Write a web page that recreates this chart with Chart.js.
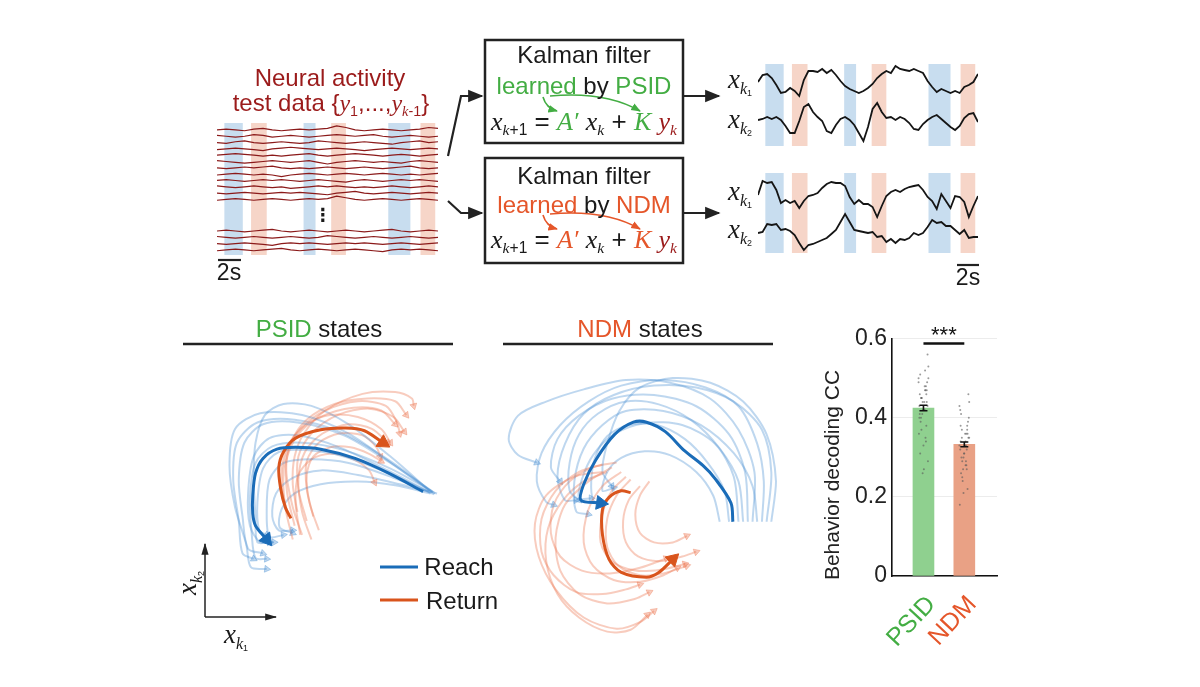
<!DOCTYPE html>
<html>
<head>
<meta charset="utf-8">
<script src="https://cdn.jsdelivr.net/npm/chart.js@4.4.1/dist/chart.umd.min.js"></script>
<style>
  body { margin:0; background:#fff; width:1200px; height:687px; position:relative; overflow:hidden;
         font-family:"Liberation Sans", Arial, sans-serif; color:#1a1a1a; }
  .box { position:absolute; }
  .t { position:absolute; white-space:nowrap; font-size:24px; line-height:1; transform:translate(-50%,-50%); }
  .m { font-family:"Liberation Serif", "DejaVu Serif", serif; font-style:italic; }
  .sb { font-size:0.6em; position:relative; top:0.35em; }
  .sb2 { font-size:0.55em; position:relative; top:0.3em; font-style:normal; font-family:"Liberation Sans", Arial, sans-serif; }
  .g { color:#43ad43; }
  .o { color:#e5562a; }
  .r { color:#9b1b1b; }
</style>
</head>
<body>

<!-- chart canvases -->
<div class="box" style="left:217px;top:123px;width:221px;height:132px"><canvas id="neural" width="221" height="132"></canvas></div>
<div class="box" style="left:758px;top:64px;width:220px;height:82px"><canvas id="psidTrace" width="220" height="82"></canvas></div>
<div class="box" style="left:758px;top:173px;width:220px;height:80px"><canvas id="ndmTrace" width="220" height="80"></canvas></div>
<div class="box" style="left:200px;top:360px;width:260px;height:230px"><canvas id="psidState" width="260" height="230"></canvas></div>
<div class="box" style="left:495px;top:355px;width:290px;height:295px"><canvas id="ndmState" width="290" height="295"></canvas></div>
<div class="box" style="left:818px;top:320px;width:185px;height:345px"><canvas id="decode" width="185" height="345"></canvas></div>

<!-- lines, boxes and arrows -->
<svg class="box" style="left:0;top:0" width="1200" height="687">
  <defs>
    <marker id="ah" viewBox="0 0 10 10" refX="9" refY="5" markerWidth="7" markerHeight="7" orient="auto">
      <path d="M0,1 L10,5 L0,9 z" fill="#222"/>
    </marker>
    <marker id="ahs" viewBox="0 0 10 10" refX="9" refY="5" markerWidth="8" markerHeight="8" orient="auto">
      <path d="M0,2 L10,5 L0,8 z" fill="#222"/>
    </marker>
    <marker id="ahg" viewBox="0 0 10 10" refX="9" refY="5" markerWidth="6" markerHeight="6" orient="auto">
      <path d="M0,1 L10,5 L0,9 z" fill="#43ad43"/>
    </marker>
    <marker id="aho" viewBox="0 0 10 10" refX="9" refY="5" markerWidth="6" markerHeight="6" orient="auto">
      <path d="M0,1 L10,5 L0,9 z" fill="#e5562a"/>
    </marker>
  </defs>
  <rect x="485" y="40" width="198" height="103" fill="none" stroke="#222" stroke-width="2.5"/>
  <rect x="485" y="158" width="198" height="105" fill="none" stroke="#222" stroke-width="2.5"/>
  <polyline points="448,156 461,96 482,96" fill="none" stroke="#222" stroke-width="2.2" marker-end="url(#ah)"/>
  <polyline points="448,201 461,213 482,213" fill="none" stroke="#222" stroke-width="2.2" marker-end="url(#ah)"/>
  <line x1="683" y1="96" x2="719" y2="96" stroke="#222" stroke-width="2.2" marker-end="url(#ah)"/>
  <line x1="683" y1="213" x2="719" y2="213" stroke="#222" stroke-width="2.2" marker-end="url(#ah)"/>
  <path d="M543,97 Q546,108 557,111" fill="none" stroke="#43ad43" stroke-width="1.6" marker-end="url(#ahg)"/>
  <path d="M550,96 Q605,91 640,111" fill="none" stroke="#43ad43" stroke-width="1.6" marker-end="url(#ahg)"/>
  <path d="M543,215 Q546,226 557,229" fill="none" stroke="#e5562a" stroke-width="1.6" marker-end="url(#aho)"/>
  <path d="M550,214 Q605,209 640,229" fill="none" stroke="#e5562a" stroke-width="1.6" marker-end="url(#aho)"/>
  <line x1="218" y1="260" x2="241" y2="260" stroke="#222" stroke-width="2.2"/>
  <line x1="957" y1="265" x2="979" y2="265" stroke="#222" stroke-width="2.2"/>
  <line x1="183" y1="344" x2="453" y2="344" stroke="#222" stroke-width="2.6"/>
  <line x1="503" y1="344" x2="773" y2="344" stroke="#222" stroke-width="2.6"/>
  <line x1="205" y1="617" x2="205" y2="544" stroke="#222" stroke-width="1.5" marker-end="url(#ahs)"/>
  <line x1="205" y1="617" x2="276" y2="617" stroke="#222" stroke-width="1.5" marker-end="url(#ahs)"/>
  <line x1="380" y1="567" x2="418" y2="567" stroke="#1a6cb8" stroke-width="3"/>
  <line x1="380" y1="600" x2="418" y2="600" stroke="#d9541c" stroke-width="3"/>
</svg>

<!-- text -->
<div class="t r" style="left:330px;top:78px">Neural activity</div>
<div class="t r" style="left:331px;top:103px">test data {<span class="m">y</span><span class="sb">1</span>,...,<span class="m">y</span><span class="sb"><span class="m">k</span>-1</span>}</div>
<div class="t" style="left:323px;top:215px;font-family:'DejaVu Sans';font-size:18px;font-weight:bold">⋮</div>
<div class="t" style="left:229px;top:272px;font-size:23px">2s</div>
<div class="t" style="left:968px;top:277px;font-size:23px">2s</div>

<div class="t" style="left:584px;top:55px">Kalman filter</div>
<div class="t" style="left:584px;top:86px"><span class="g">learned</span> by <span class="g">PSID</span></div>
<div class="t" style="left:584px;top:121px;font-size:26px"><span class="m">x</span><span class="sb"><span class="m">k</span>+1</span> = <span class="m g">A′</span> <span class="m">x</span><span class="sb m">k</span> + <span class="m g">K</span> <span class="m r">y</span><span class="sb m r">k</span></div>
<div class="t" style="left:584px;top:176px">Kalman filter</div>
<div class="t" style="left:584px;top:205px"><span class="o">learned</span> by <span class="o">NDM</span></div>
<div class="t" style="left:584px;top:239px;font-size:26px"><span class="m">x</span><span class="sb"><span class="m">k</span>+1</span> = <span class="m o">A′</span> <span class="m">x</span><span class="sb m">k</span> + <span class="m o">K</span> <span class="m r">y</span><span class="sb m r">k</span></div>

<div class="t m" style="left:740px;top:79px;font-size:27px">x<span class="sb">k<span class="sb2">1</span></span></div>
<div class="t m" style="left:740px;top:119px;font-size:27px">x<span class="sb">k<span class="sb2">2</span></span></div>
<div class="t m" style="left:740px;top:191px;font-size:27px">x<span class="sb">k<span class="sb2">1</span></span></div>
<div class="t m" style="left:740px;top:229px;font-size:27px">x<span class="sb">k<span class="sb2">2</span></span></div>

<div class="t" style="left:319px;top:329px"><span class="g">PSID</span> states</div>
<div class="t" style="left:640px;top:329px"><span class="o">NDM</span> states</div>
<div class="t" style="left:459px;top:567px;font-size:24px">Reach</div>
<div class="t" style="left:462px;top:601px;font-size:24px">Return</div>
<div class="t m" style="left:187px;top:583px;font-size:27px;transform:translate(-50%,-50%) rotate(-90deg)">x<span class="sb">k<span class="sb2">2</span></span></div>
<div class="t m" style="left:236px;top:634px;font-size:27px">x<span class="sb">k<span class="sb2">1</span></span></div>
<div class="t" style="left:831px;top:475px;font-size:21px;color:#222;transform:translate(-50%,-50%) rotate(-90deg)">Behavior decoding CC</div>

<script>
// ---- data ----
// behaviour epochs (time in s on the trace axis)
const epochReach  = [[0.8, 2.8], [9.4, 10.7], [18.6, 21.0]];
const epochReturn = [[3.7, 5.4], [12.4, 14.0], [22.1, 23.7]];
const traceSpan = 24;

// neural activity, upper group of channels (z-scored, x10)
const neuralTop = [
  [0,1,0,-1,1,2,0,-1,0,1,0,1,2,5,3,0,-1,0,1,0,-1,0,1,3,2],
  [1,0,-1,0,2,1,-1,0,1,0,-1,0,1,2,1,0,1,2,0,-1,0,1,0,-1,0],
  [0,-1,1,2,0,-1,0,1,0,-1,0,2,1,0,-1,0,1,0,-1,-2,0,1,2,0,1],
  [-1,0,1,0,-1,-2,0,1,2,1,0,-1,0,1,0,-1,-2,-1,0,1,0,-1,0,1,0],
  [0,1,2,1,0,-1,0,-1,0,1,2,0,-1,0,1,2,1,0,-1,0,1,0,-1,0,1],
  [1,0,-1,-2,-1,0,1,0,-1,0,1,-1,-3,-1,0,1,0,-1,0,-1,-2,0,1,0,-1],
  [0,-1,0,1,0,1,2,0,-1,0,-1,0,1,0,-1,0,1,0,-1,0,1,2,0,-1,0],
  [-1,0,1,0,-1,0,-1,-3,-1,0,1,0,-1,0,1,0,-1,0,1,0,-1,0,-1,0,1],
  [0,1,0,-1,0,1,0,1,0,-1,0,1,0,-1,-2,0,1,0,-1,0,1,0,1,0,-1],
  [1,0,-1,0,1,0,-1,0,-2,-1,0,1,0,1,0,-1,0,-1,0,1,0,-1,0,1,0],
  [0,-1,0,1,0,-1,0,1,0,1,0,-1,-2,0,1,2,0,-1,0,1,0,-1,0,1,0],
  [-1,0,1,0,-1,0,1,0,-1,0,1,0,1,4,2,0,-1,0,1,0,-1,0,1,0,-1]
];
// neural activity, lower group of channels
const neuralBottom = [
  [0,1,0,-1,0,1,2,0,-1,0,1,0,-1,0,1,0,-1,0,1,2,0,-1,0,1,0],
  [1,0,-1,0,1,0,-1,0,1,0,-1,0,2,1,0,-1,0,1,0,-1,0,1,0,-1,0],
  [0,-1,0,1,0,-1,-2,0,1,0,1,0,-1,0,1,0,1,0,-1,0,1,0,-1,0,1],
  [-1,0,1,0,-1,0,1,2,0,-1,0,1,0,-1,0,1,0,-1,-2,0,1,0,1,0,-1]
];

// decoded latent states over time (a.u.)
const psidK1 = [2,9,10,6,-1,-9,-8,-4,-7,-12,4,13,13,12,15,11,14,9,3,-2,-5,-7,-9,-7,-4,0,6,10,13,11,18,15,14,13,15,13,11,3,-3,-8,-5,-7,-9,-7,-9,-3,-1,2,10];
const psidK2 = [0,1,3,1,3,0,-6,-13,-13,-1,13,16,8,3,-1,-11,-13,-5,1,3,0,-5,-13,-21,-7,11,17,8,2,3,0,3,1,-3,-9,-10,-4,0,3,5,1,-3,-7,-10,-6,2,6,7,-2];
const ndmK1  = [2,16,14,15,7,-6,-3,-6,-4,-11,-4,1,2,4,9,13,15,14,14,11,0,-7,-3,-7,-7,-10,-20,-9,1,5,7,5,8,10,11,12,7,0,-4,-12,3,-4,-11,1,0,-5,-20,-9,1];
const ndmK2  = [-1,0,8,7,8,2,3,1,-3,-11,-18,-13,-12,-10,-8,-6,-2,2,10,18,10,2,1,0,-1,0,-5,-4,-10,-7,-11,-7,-8,-6,-1,-3,-1,5,12,9,10,6,6,2,-2,2,-6,-5,-5];

// state-space trajectories [x_k1, x_k2] (a.u.)
const psidReachMean  = [[230,97],[193,117],[157,133],[120,143],[93,145],[73,143],[58,133],[50,117],[47,93],[47,73],[50,60],[62,45]];
const psidReturnMean = [[88,68],[82,80],[77,100],[75,123],[80,140],[93,155],[120,164],[147,166],[167,163],[187,150]];
const psidReachTrials = [
  [[243,95],[200,125],[150,160],[100,180],[55,182],[28,165],[22,125],[28,80],[40,40],[45,15],[62,13]],
  [[240,96],[195,128],[145,158],[95,172],[58,170],[38,150],[32,110],[36,70],[42,35],[58,30]],
  [[238,96],[192,120],[140,145],[95,158],[65,155],[48,135],[42,95],[44,60],[55,42],[70,42]],
  [[236,97],[190,118],[145,135],[105,142],[75,140],[58,122],[52,85],[54,55],[62,50]],
  [[242,94],[198,112],[150,128],[110,132],[80,128],[65,110],[62,75],[65,48],[80,50]],
  [[237,98],[195,135],[150,170],[110,190],[80,192],[60,180],[50,150],[48,110],[50,70],[52,42],[65,42]],
  [[245,95],[205,105],[160,115],[120,120],[90,112],[72,95],[68,70],[75,55],[90,55]],
  [[240,97],[195,122],[145,142],[100,150],[68,146],[50,128],[44,90],[46,50],[50,25],[62,24]],
  [[238,95],[200,104],[160,108],[120,105],[92,95],[78,78],[76,58],[90,52]],
  [[241,96],[192,132],[140,162],[92,175],[52,172],[30,150],[26,110],[32,65],[36,30],[48,24]]
];
const psidReturnTrials = [
  [[100,50],[90,80],[83,120],[88,150],[105,175],[135,192],[170,198],[200,195],[212,180]],
  [[92,60],[84,95],[83,130],[95,158],[120,178],[155,188],[185,185],[200,170]],
  [[110,45],[100,75],[96,110],[103,140],[122,160],[150,170],[175,165],[192,150]],
  [[85,70],[78,105],[82,140],[98,165],[125,185],[160,195],[190,190],[202,172],[205,160]],
  [[118,55],[108,85],[105,115],[112,135],[130,145],[152,145],[172,138],[185,130]],
  [[98,50],[93,85],[96,115],[110,132],[130,138],[155,132],[172,120],[178,107]],
  [[105,65],[96,100],[96,135],[110,160],[138,180],[172,187],[198,178],[210,162]],
  [[90,45],[82,80],[80,120],[88,150],[105,170],[130,180],[160,178],[185,165],[195,150]],
  [[112,70],[105,100],[105,130],[118,150],[140,160],[165,158],[180,145],[184,135]],
  [[95,75],[90,105],[92,135],[102,160],[125,185],[165,203],[200,205],[218,198],[220,190]]
];
const ndmReachMean  = [[244,127],[242,147],[225,173],[212,187],[192,203],[172,223],[152,233],[138,233],[118,220],[98,193],[85,167],[82,150],[103,147]];
const ndmReturnMean = [[135,158],[125,160],[112,153],[105,140],[105,113],[112,87],[125,73],[152,68],[165,73],[180,87]];
const ndmReachTrials = [
  [[265,127],[267,180],[250,225],[220,258],[177,275],[130,278],[85,268],[45,255],[15,240],[5,215],[15,198],[35,190]],
  [[275,127],[277,170],[270,210],[250,250],[215,270],[170,278],[125,272],[90,255],[60,230],[40,200],[35,170],[45,148],[53,145]],
  [[255,127],[250,170],[230,205],[200,235],[165,252],[130,255],[100,242],[80,220],[70,190],[70,160],[80,150]],
  [[240,127],[235,160],[217,190],[193,215],[163,230],[133,230],[110,218],[97,195],[93,170],[95,150],[103,145]],
  [[285,127],[290,170],[280,220],[255,255],[220,275],[180,280],[145,270],[123,245],[110,210],[105,180],[115,165]],
  [[270,127],[265,165],[245,200],[210,230],[170,245],[130,245],[105,230],[85,205],[75,170],[77,138],[90,135]],
  [[260,127],[257,180],[240,220],[205,250],[160,262],[115,258],[80,240],[57,215],[50,185],[60,170]],
  [[250,127],[245,175],[225,210],[190,230],[150,232],[117,220],[95,198],[83,172],[80,152],[93,152]],
  [[230,127],[223,155],[205,180],[177,198],[150,202],[125,195],[110,180],[105,160],[117,163]],
  [[280,127],[285,180],[275,225],[245,255],[205,270],[160,272],[117,262],[85,242],[65,210],[57,175],[65,150],[77,150]]
];
const ndmReturnTrials = [
  [[105,180],[75,175],[45,155],[33,125],[37,90],[55,55],[85,25],[120,13],[145,20],[160,32]],
  [[115,185],[90,170],[65,145],[55,110],[60,75],[80,50],[110,40],[140,45],[155,52]],
  [[125,180],[105,165],[90,140],[85,105],[95,80],[117,65],[145,63],[170,70],[185,78]],
  [[135,172],[120,155],[110,130],[110,100],[122,80],[145,70],[170,72],[195,80]],
  [[105,188],[80,180],[55,160],[40,130],[40,95],[53,70],[77,52],[105,50],[130,55],[145,60]],
  [[145,165],[133,150],[127,128],[130,105],[143,90],[165,85],[190,90],[205,95]],
  [[120,190],[95,185],[70,170],[53,145],[50,115],[60,90],[83,75],[113,72],[145,78],[173,88]],
  [[130,175],[115,160],[105,135],[103,105],[115,85],[140,75],[167,76],[193,82]],
  [[155,170],[145,155],[140,135],[145,115],[160,105],[180,105],[195,112]],
  [[110,180],[85,170],[63,150],[47,120],[45,85],[57,50],[80,25],[110,10],[135,12],[153,28]]
];

// behaviour decoding CC
const methods = ['PSID', 'NDM'];
const ccMean = [0.425, 0.333];
const ccSem = [0.007, 0.006];
const ccPsid = [0.51,0.47,0.44,0.56,0.49,0.42,0.38,0.45,0.50,0.43,0.33,0.47,0.40,0.52,0.46,0.29,0.41,0.48,0.36,0.44,0.49,0.39,0.27,0.45,0.43,0.50,0.35,0.42,0.46,0.31,0.48,0.40,0.53,0.37,0.44,0.26,0.47,0.41,0.34,0.45];
const ccNdm  = [0.41,0.36,0.30,0.46,0.33,0.28,0.38,0.25,0.35,0.42,0.31,0.22,0.37,0.29,0.34,0.40,0.27,0.32,0.18,0.36,0.39,0.30,0.33,0.24,0.35,0.43,0.28,0.31,0.37,0.26,0.34,0.32,0.44,0.29,0.36,0.21,0.33,0.38,0.27,0.35];
const ccJitter = [-0.08,0.05,-0.02,0.1,-0.12,0.03,0.07,-0.05,0.12,-0.1,0.0,0.08,-0.06,0.04,-0.09,0.11,-0.03,0.06,-0.11,0.02,0.09,-0.07,0.01,-0.04,0.1,-0.12,0.05,-0.01,0.07,-0.08,0.03,-0.1,0.12,-0.05,0.08,-0.02,0.04,-0.09,0.06,-0.06];

// ---- styles ----
const GREEN = '#43ad43', ORANGE = '#e5562a';
const REACH_DARK = '#1a6cb8', RETURN_DARK = '#d9541c';
const REACH_LIGHT = 'rgba(70,140,210,0.35)', RETURN_LIGHT = 'rgba(236,120,84,0.38)';
const SHADE_REACH = '#c8ddef', SHADE_RETURN = '#f6d5c8';

Chart.defaults.font.family = '"Liberation Sans", Arial, sans-serif';
Chart.defaults.animation = false;
Chart.defaults.events = [];
Chart.defaults.plugins.legend.display = false;
Chart.defaults.plugins.tooltip.enabled = false;

const shadePlugin = {
  id: 'epochShade',
  beforeDatasetsDraw(chart) {
    const { ctx, chartArea, scales: { x } } = chart;
    ctx.save();
    [[epochReach, SHADE_REACH], [epochReturn, SHADE_RETURN]].forEach(([eps, col]) => {
      ctx.fillStyle = col;
      eps.forEach(([a, b]) => {
        const x0 = x.getPixelForValue(a), x1 = x.getPixelForValue(b);
        ctx.fillRect(x0, chartArea.top, x1 - x0, chartArea.bottom - chartArea.top);
      });
    });
    ctx.restore();
  }
};

function timeSeries(vals, offset, gain) {
  return vals.map((v, i) => ({ x: i * traceSpan / (vals.length - 1), y: offset + v * gain }));
}

function hiddenScales(xmin, xmax, ymin, ymax) {
  return {
    x: { type: 'linear', display: false, min: xmin, max: xmax },
    y: { type: 'linear', display: false, min: ymin, max: ymax }
  };
}

// neural traces
const neuralSets = [];
neuralTop.forEach((tr, i) => neuralSets.push(timeSeries(tr, -i, 0.13)));
neuralBottom.forEach((tr, i) => neuralSets.push(timeSeries(tr, -(16 + i), 0.13)));
new Chart(document.getElementById('neural'), {
  type: 'line',
  data: { datasets: neuralSets.map(d => ({ data: d, borderColor: '#8b1a1a', borderWidth: 1.2, pointRadius: 0, clip: false, tension: 0 })) },
  options: { responsive: false, layout: { padding: 0 }, scales: hiddenScales(0, traceSpan, -19.8, 1.1) },
  plugins: [shadePlugin]
});

// decoded latent traces
function latentChart(id, k1, k2, off1, off2, ymax) {
  new Chart(document.getElementById(id), {
    type: 'line',
    data: { datasets: [timeSeries(k1, off1, 1), timeSeries(k2, off2, 1)].map(d => ({
      data: d, borderColor: '#151515', borderWidth: 1.8, pointRadius: 0, clip: false, tension: 0 })) },
    options: { responsive: false, layout: { padding: 0 }, scales: hiddenScales(0, traceSpan, 0, ymax) },
    plugins: [shadePlugin]
  });
}
latentChart('psidTrace', psidK1, psidK2, 62, 26, 82);
latentChart('ndmTrace', ndmK1, ndmK2, 56, 21, 80);

// state-space trajectories
function trajSet(path, color, width, r, order) {
  const n = path.length;
  const a = path[n - 2], b = path[n - 1];
  const rot = Math.atan2(b[0] - a[0], b[1] - a[1]) * 180 / Math.PI;
  return {
    data: path.map(p => ({ x: p[0], y: p[1] })),
    showLine: true, borderColor: color, backgroundColor: color, borderWidth: width,
    pointStyle: 'triangle', pointRadius: c => (c.dataIndex === n - 1 ? r : 0),
    pointBorderWidth: 1, pointRotation: rot, tension: 0.3, clip: false, order
  };
}
function stateChart(id, reachTrials, returnTrials, reachMean, returnMean, w, h) {
  const sets = [];
  reachTrials.forEach((p, i) => {
    sets.push(trajSet(p, REACH_LIGHT, 2, 4, 2));
    if (returnTrials[i]) sets.push(trajSet(returnTrials[i], RETURN_LIGHT, 2, 4, 2));
  });
  sets.push(trajSet(reachMean, REACH_DARK, 3, 8, 0));
  sets.push(trajSet(returnMean, RETURN_DARK, 3, 8, 0));
  new Chart(document.getElementById(id), {
    type: 'scatter',
    data: { datasets: sets },
    options: { responsive: false, layout: { padding: 0 }, scales: hiddenScales(0, w, 0, h) }
  });
}
stateChart('psidState', psidReachTrials, psidReturnTrials, psidReachMean, psidReturnMean, 260, 230);
stateChart('ndmState', ndmReachTrials, ndmReturnTrials, ndmReachMean, ndmReturnMean, 290, 295);

// decoding bar chart
const barColors = ['#8fd08f', '#e9a185'];
const labelColors = [GREEN, ORANGE];
const errPlugin = {
  id: 'errBars',
  afterDatasetsDraw(chart) {
    const { ctx, scales: { x, y } } = chart;
    ctx.save();
    ctx.strokeStyle = '#111';
    ctx.lineWidth = 1.6;
    ccMean.forEach((m, i) => {
      const px = x.getPixelForValue(i + 1);
      const lo = y.getPixelForValue(m - ccSem[i]), hi = y.getPixelForValue(m + ccSem[i]);
      ctx.beginPath();
      ctx.moveTo(px, lo); ctx.lineTo(px, hi);
      ctx.moveTo(px - 4, lo); ctx.lineTo(px + 4, lo);
      ctx.moveTo(px - 4, hi); ctx.lineTo(px + 4, hi);
      ctx.stroke();
    });
    // significance bracket
    const sy = y.getPixelForValue(0.588);
    const x1 = x.getPixelForValue(1), x2 = x.getPixelForValue(2);
    ctx.lineWidth = 2.6;
    ctx.beginPath(); ctx.moveTo(x1, sy); ctx.lineTo(x2, sy); ctx.stroke();
    ctx.fillStyle = '#111';
    ctx.font = '22px "Liberation Sans", Arial, sans-serif';
    ctx.textAlign = 'center';
    ctx.textBaseline = 'alphabetic';
    ctx.fillText('***', (x1 + x2) / 2, sy - 2);
    ctx.restore();
  }
};
new Chart(document.getElementById('decode'), {
  type: 'bar',
  data: {
    datasets: [
      { type: 'scatter', data: ccPsid.map((v, j) => ({ x: 1 + ccJitter[j], y: v })),
        pointRadius: 1, backgroundColor: 'rgba(90,90,90,0.6)', borderWidth: 0, order: 0 },
      { type: 'scatter', data: ccNdm.map((v, j) => ({ x: 2 + ccJitter[j], y: v })),
        pointRadius: 1, backgroundColor: 'rgba(90,90,90,0.6)', borderWidth: 0, order: 0 },
      { data: ccMean.map((v, i) => ({ x: i + 1, y: v })), backgroundColor: barColors,
        barThickness: 21, borderWidth: 0, order: 1 }
    ]
  },
  options: {
    responsive: false,
    layout: { padding: { top: 17, right: 6, left: 0, bottom: 0 } },
    scales: {
      x: {
        type: 'linear', min: 0.23, max: 2.8, offset: false,
        afterBuildTicks: s => { s.ticks = methods.map((m, i) => ({ value: i + 1 })); },
        afterFit: s => { s.height = 89; },
        grid: { display: false },
        border: { color: '#111', width: 1.6 },
        ticks: {
          autoSkip: false, minRotation: 47, maxRotation: 47, padding: 6, labelOffset: 8,
          font: { size: 25 }, color: c => labelColors[c.index],
          callback: v => methods[v - 1] || ''
        }
      },
      y: {
        min: 0, max: 0.6,
        afterFit: s => { s.width = 74; },
        grid: { color: '#ececec', lineWidth: 1, drawTicks: false },
        border: { color: '#111', width: 1.6 },
        ticks: { stepSize: 0.2, padding: 5, font: { size: 23 }, color: '#222',
          callback: v => (v === 0 ? '0' : v.toFixed(1)) }
      }
    }
  },
  plugins: [errPlugin]
});
</script>
</body>
</html>
